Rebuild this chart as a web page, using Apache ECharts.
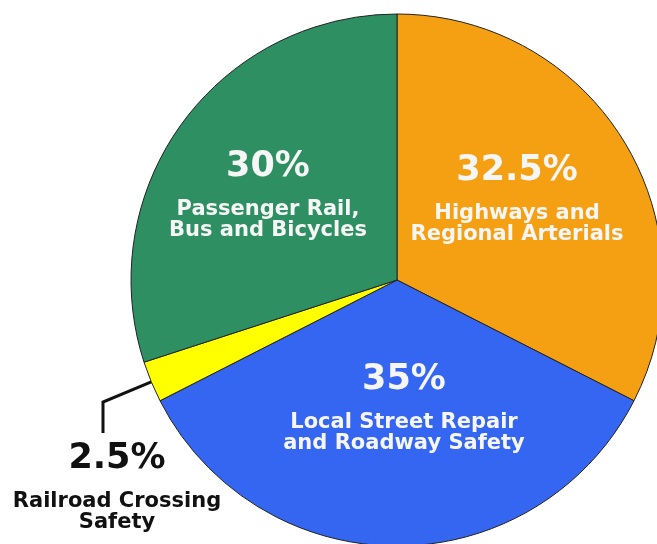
<!DOCTYPE html>
<html>
<head>
<meta charset="utf-8">
<script src="https://cdn.jsdelivr.net/npm/echarts@6/dist/echarts.min.js"></script>
<style>
  html, body { margin: 0; padding: 0; background: #fff; }
  #chart { width: 657px; height: 544px; }
</style>
</head>
<body>
<div id="chart"></div>
<script>
var names = ['Highways and\nRegional Arterials', 'Local Street Repair\nand Roadway Safety', 'Railroad Crossing\nSafety', 'Passenger Rail,\nBus and Bicycles'];
var values = [32.5, 35, 2.5, 30];
var colors = ['#f5a012', '#3466f2', '#ffff00', '#2e8f62'];

// where each label block is centred
var labelPos = [[517, 192], [404, 401], [117, 480], [268, 188]];

var myChart = echarts.init(document.getElementById('chart'));

var data = values.map(function (v, i) {
  var outside = i === 2;
  return {
    name: names[i],
    value: v,
    itemStyle: { color: colors[i] },
    label: {
      position: outside ? 'outside' : 'inside',
      color: outside ? '#111' : '#f6f6f6'
    },
    labelLine: { show: outside, lineStyle: { color: '#111', width: 3 } }
  };
});

var option = {
  animation: false,
  series: [{
    type: 'pie',
    center: [397, 280],
    radius: 266,
    startAngle: 90,
    clockwise: true,
    data: data,
    itemStyle: {
      borderColor: '#222',
      borderWidth: 1
    },
    label: {
      show: true,
      overflow: 'none',
      formatter: function (p) {
        return '{pct|' + p.value + '%}\n{name|' + p.name.split('\n').join('}\n{name|') + '}';
      },
      fontFamily: 'DejaVu Sans',
      fontWeight: 'bold',
      align: 'center',
      rich: {
        pct: { fontSize: 35, fontWeight: 'bold', fontFamily: 'DejaVu Sans', lineHeight: 64, align: 'center' },
        name: { fontSize: 21, fontWeight: 'bold', fontFamily: 'DejaVu Sans', lineHeight: 21, align: 'center' }
      }
    },
    labelLayout: function (p) {
      var pos = labelPos[p.dataIndex];
      var out = { x: pos[0], y: pos[1], align: 'center', verticalAlign: 'middle' };
      if (p.dataIndex === 2 && p.labelLinePoints) {
        var s = p.labelLinePoints[0];
        out.labelLinePoints = [s, [103, 402], [103, 433]];
      }
      return out;
    }
  }]
};

myChart.setOption(option);
</script>
</body>
</html>
